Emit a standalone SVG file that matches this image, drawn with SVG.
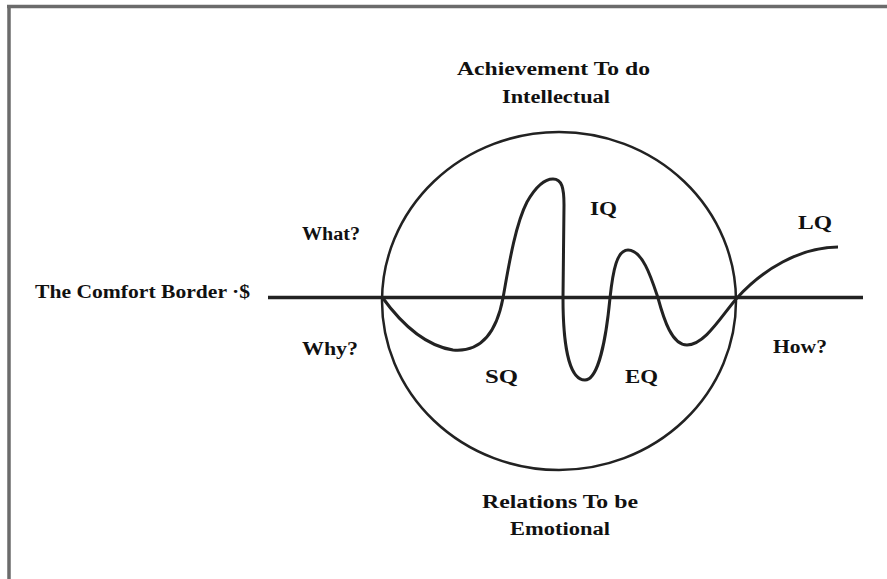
<svg xmlns="http://www.w3.org/2000/svg" width="887" height="579" viewBox="0 0 887 579">
<style>
.t{font-family:"Liberation Serif","Times New Roman",serif;font-weight:bold;font-size:18px;fill:#111}
.frame{stroke:#6b6b6b;stroke-width:3.5;fill:none}
.ln{stroke:#222;fill:none}
</style>
<rect width="887" height="579" fill="#fff"/>
<g id="frame">
<line class="frame" x1="7" y1="6.5" x2="887" y2="6.5"/>
<line class="frame" x1="9" y1="5" x2="9" y2="579"/>
</g>
<g id="circle">
<ellipse class="ln" cx="559" cy="301" rx="177" ry="169" stroke-width="2.5"/>
</g>
<g id="connectors">
<line id="comfort-border" class="ln" x1="268" y1="297.5" x2="863" y2="297.5" stroke="#333" stroke-width="3.5"/>
<path id="wave" class="ln" stroke-width="3" stroke-linejoin="round" d="M382,297 C395,315 420,345 453,350 C475,352 495,340 503,298 C508,270 515,225 527,202 C535,188 543,179 553,179 C562,179 564,188 564,205 L563,298 C563,340 568,380 585,380 C598,380 606,340 610,298 C613,270 617,250 628,250 C643,250 652,280 658,298 C664,320 672,345 687,345 C705,345 722,315 737,298 C762,270 800,247 838,247"/>
</g>
<g id="labels">
<text class="t" x="457" y="75" textLength="193" lengthAdjust="spacingAndGlyphs">Achievement  To do</text>
<text class="t" x="502" y="103" textLength="108" lengthAdjust="spacingAndGlyphs">Intellectual</text>
<text class="t" x="482" y="508" textLength="156" lengthAdjust="spacingAndGlyphs">Relations  To be</text>
<text class="t" x="510" y="535" textLength="100" lengthAdjust="spacingAndGlyphs">Emotional</text>
<text class="t" x="35" y="298" textLength="215" lengthAdjust="spacingAndGlyphs">The Comfort Border ·$</text>
<text class="t" x="302" y="240" textLength="58" lengthAdjust="spacingAndGlyphs">What?</text>
<text class="t" x="302" y="355" textLength="56" lengthAdjust="spacingAndGlyphs">Why?</text>
<text class="t" x="590" y="215" textLength="27" lengthAdjust="spacingAndGlyphs">IQ</text>
<text class="t" x="485" y="383" textLength="33" lengthAdjust="spacingAndGlyphs">SQ</text>
<text class="t" x="625" y="383" textLength="33" lengthAdjust="spacingAndGlyphs">EQ</text>
<text class="t" x="798" y="229" textLength="34" lengthAdjust="spacingAndGlyphs">LQ</text>
<text class="t" x="773" y="353" textLength="54" lengthAdjust="spacingAndGlyphs">How?</text>
</g>
</svg>
